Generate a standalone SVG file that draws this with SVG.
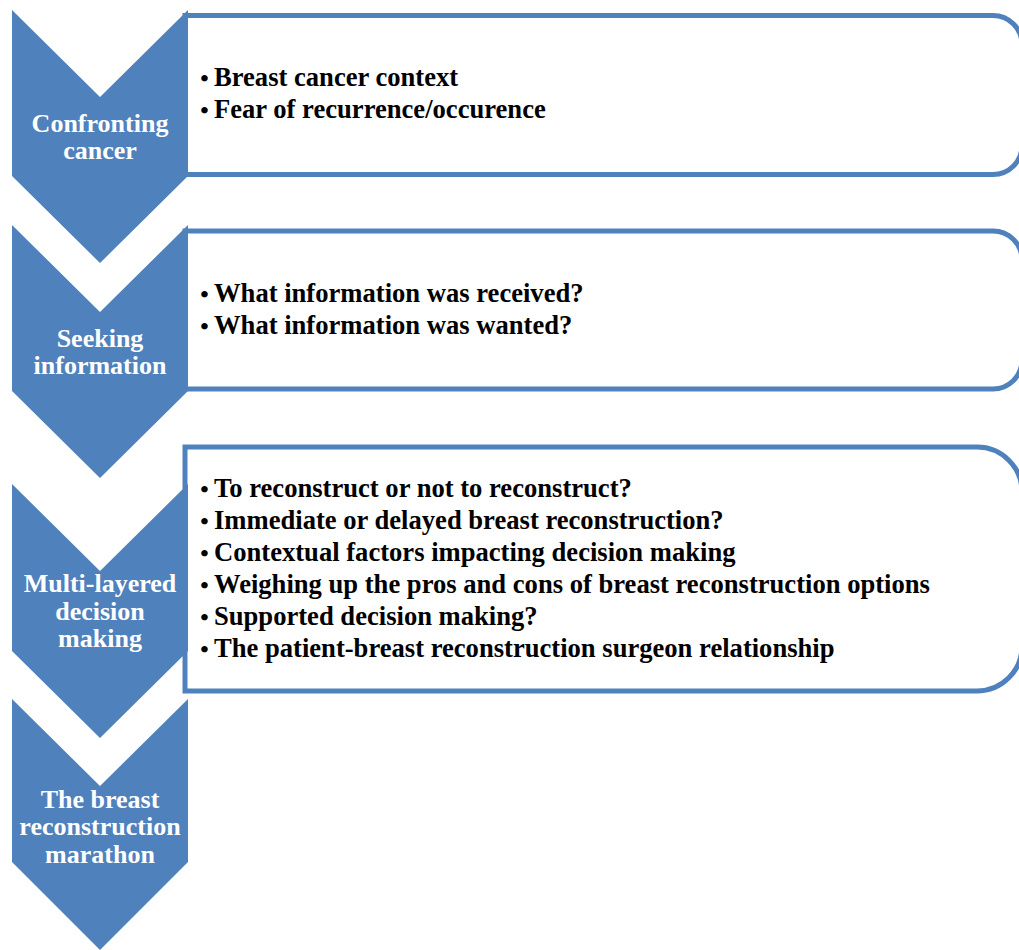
<svg xmlns="http://www.w3.org/2000/svg" width="1019" height="950" viewBox="0 0 1019 950">
<style>
.box{fill:#fff;stroke:#4F81BD;stroke-width:5}
.chev{fill:#4F81BD}
.lbl{font-family:"Liberation Serif","Times New Roman",serif;font-weight:bold;font-size:26px;fill:#fff;text-anchor:middle}
.itm{font-family:"Liberation Serif","Times New Roman",serif;font-weight:bold;font-size:26.6px;fill:#000}
.bul{font-family:"Liberation Serif","Times New Roman",serif;font-weight:bold;font-size:24px;fill:#000;text-anchor:middle}
</style>
<rect width="1019" height="950" fill="#fff"/>
<g id="box1">
<path class="box" d="M185,15.5 H993 A29,29 0 0 1 1022,44.5 V145.5 A29,29 0 0 1 993,174.5 H185 Z"/>
<text class="bul" x="204.5" y="86">•</text><text class="itm" x="214" y="86">Breast cancer context</text>
<text class="bul" x="204.5" y="118">•</text><text class="itm" x="214" y="118">Fear of recurrence/occurence</text>
</g>
<g id="box2">
<path class="box" d="M185,231 H993 A29,29 0 0 1 1022,260 V360 A29,29 0 0 1 993,389 H185 Z"/>
<text class="bul" x="204.5" y="302">•</text><text class="itm" x="214" y="302">What information was received?</text>
<text class="bul" x="204.5" y="334">•</text><text class="itm" x="214" y="334">What information was wanted?</text>
</g>
<g id="box3">
<path class="box" d="M185,447 H977 A45,45 0 0 1 1022,492 V646 A45,45 0 0 1 977,691 H185 Z"/>
<text class="bul" x="204.5" y="497">•</text><text class="itm" x="214" y="497">To reconstruct or not to reconstruct?</text>
<text class="bul" x="204.5" y="529">•</text><text class="itm" x="214" y="529">Immediate or delayed breast reconstruction?</text>
<text class="bul" x="204.5" y="561">•</text><text class="itm" x="214" y="561">Contextual factors impacting decision making</text>
<text class="bul" x="204.5" y="593">•</text><text class="itm" x="214" y="593">Weighing up the pros and cons of breast reconstruction options</text>
<text class="bul" x="204.5" y="625">•</text><text class="itm" x="214" y="625">Supported decision making?</text>
<text class="bul" x="204.5" y="657">•</text><text class="itm" x="214" y="657">The patient-breast reconstruction surgeon relationship</text>
</g>
<g id="chevron1">
<polygon class="chev" points="12,10 100,97 188,10 188,176 100,263 12,176"/>
<text class="lbl" x="100" y="132">Confronting</text>
<text class="lbl" x="100" y="159">cancer</text>
</g>
<g id="chevron2">
<polygon class="chev" points="12,225 100,312 188,225 188,391 100,478 12,391"/>
<text class="lbl" x="100" y="347">Seeking</text>
<text class="lbl" x="100" y="374">information</text>
</g>
<g id="chevron3">
<polygon class="chev" points="12,484 100,571 188,484 188,651 100,738 12,651"/>
<text class="lbl" x="100" y="592">Multi-layered</text>
<text class="lbl" x="100" y="620">decision</text>
<text class="lbl" x="100" y="647">making</text>
</g>
<g id="chevron4">
<polygon class="chev" points="12,699 100,786 188,699 188,862 100,950 12,862"/>
<text class="lbl" x="100" y="808">The breast</text>
<text class="lbl" x="100" y="835">reconstruction</text>
<text class="lbl" x="100" y="863">marathon</text>
</g>
<g id="connectors"/>
</svg>
